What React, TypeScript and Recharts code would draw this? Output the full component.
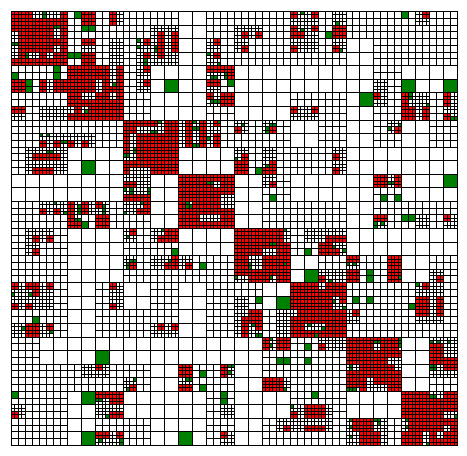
import { ReferenceLine, Scatter, ScatterChart, XAxis, YAxis } from 'recharts';

// block layout, one char per 1/32 of the matrix: B big, G big green, M split in 4, S split in 16
const layoutRows = [
  'SSSSMSMSMMMMBBMMMMMMSSMSMMMMMSMM',
  'SSSSMMMMMMSSBBMMSSMMSSMSMMMMMMMM',
  'SSSSMSMSMSSSBBSMSMMMSSMSBBMMMMMM',
  'SSSSMSMSMSSSBBSMMMMMMMMMBBMMMMMM',
  'MMMMSSSSMSBBBBSSBBBBBBBBBBMMBBBB',
  'SMSSSSSSMSBGBBSMBBBBBBBBBBSMGBBG',
  'MMMMSSSSMMBBBBSSBBBBMMMMBGSMSSMS',
  'SMSSSSSSMMBBBBMMBBBBSSMMBBMMSSMS',
  'MMMMMMMMSSSSSSSMSMSMBBMMBBMSBBMM',
  'MMSSSSMMSSSSSSSMMMMMBBMMBBMMBBMM',
  'MSSSBBBBSSSSBBBBSMSMMMMSBBBBBBBB',
  'MSSSBGBBSSSSBBBBSMSMMMMSBBBBBBBB',
  'BBBBBBBBSSBBSSSSBBSMBBBBBBSSBBBG',
  'BBBBBBBBSSBBSSSSBBMMBBBBBBMMBBBB',
  'MMSSSSSMSSBBSSSSBBMMMMMMBBMMMMMM',
  'MMMMSMSMMMBBSSSSBBMMMMMMBBSMMSMS',
  'MSSMBBBBSMSSBBBBSSSSMSSSBBBBBBBB',
  'MSMMBBBBMMMMBBBBSSSSMMSSBBBBBBBB',
  'MMMMBBBBSMSSSMMMSSSSBBMMSMMSBBMM',
  'MMMMBBBBMMMMMMMMSSSSBGSSSMMSBBSM',
  'SSSMBBMSBBMMBBMMMMBBSSSSMMMMMSSM',
  'SSSMBBMSBBMMBBMMSMBGSSSSMMMMMSSM',
  'MMMMBBMMMMMMBBMMSSMSSSSSSMMMMSSM',
  'SSSMBBMMMMSSBBMMSSMSSSSSMMMMMMMM',
  'MMBBBBBBBBBBBBBBBBSSMMSSSSSSBBSS',
  'MMBBBBGBBBBBBBBBBBMMMMMMSSSSBBSS',
  'MMMMMSSMMMBBSMMSBBMMMMMMSSSSBBSS',
  'MMMMMMMMSMBBSMMMBBSSMMMMSSSSBBMM',
  'MMMMBGSSBBBBBBMMBBBBMMMMBBBBSSSS',
  'SMMMBBSSBBBBBBMSBBBBSSSMBBBBSSSS',
  'MMMMBBMMMMBBBBMMBBMSSSSMSSSMSSSS',
  'MMMMBGSSMMBBGBMSBBMMMMMMSSSMSSSS',
];

// red areas as [left, top, right, bottom] on the 128 x 128 grid
const redBlocks = [
  [0, 0, 6, 2], [14, 0, 16, 2], [0, 2, 16, 4], [0, 4, 12, 6], [14, 4, 16, 6], [2, 6, 12, 8], [14, 6, 16, 8],
  [2, 8, 16, 10], [2, 10, 12, 12], [14, 10, 16, 12], [2, 12, 4, 14], [8, 12, 10, 14], [12, 12, 16, 14], [0, 14, 16, 16],
  [20, 0, 24, 4], [28, 0, 30, 4], [20, 8, 24, 10], [20, 12, 24, 16],
  [0, 20, 4, 24], [8, 20, 10, 24], [12, 20, 16, 24], [0, 28, 4, 30],
  [16, 16, 28, 20], [30, 16, 32, 20], [16, 20, 24, 24], [26, 20, 28, 24], [30, 20, 32, 24], [28, 22, 30, 24],
  [16, 24, 20, 26], [24, 24, 28, 26], [30, 24, 32, 26], [16, 26, 32, 28], [18, 28, 20, 30], [22, 28, 32, 30], [16, 30, 32, 32],
  [42, 6, 44, 14], [46, 6, 48, 12], [38, 8, 40, 10], [38, 12, 40, 14], [38, 16, 40, 18], [38, 20, 40, 22],
  [58, 8, 60, 10], [58, 12, 60, 14], [56, 16, 64, 18], [62, 18, 64, 20], [56, 20, 60, 22], [56, 24, 58, 26], [60, 24, 64, 28],
  [66, 6, 68, 8], [70, 6, 72, 8], [66, 10, 68, 12], [80, 0, 82, 2], [86, 0, 88, 2], [80, 4, 82, 6], [80, 6, 84, 8], [86, 4, 88, 6],
  [80, 10, 82, 12], [80, 28, 82, 30], [86, 28, 88, 30], [92, 4, 96, 8], [92, 10, 94, 12],
  [118, 0, 120, 2], [104, 24, 106, 26], [112, 24, 114, 28], [112, 28, 116, 32], [118, 28, 120, 32], [124, 24, 126, 28], [124, 30, 126, 32],
  [8, 38, 10, 40], [12, 38, 14, 40], [16, 38, 18, 40], [20, 38, 22, 40], [6, 42, 14, 44], [6, 46, 12, 48],
  [8, 58, 10, 60], [12, 58, 14, 60], [16, 56, 18, 60], [20, 56, 22, 60], [24, 56, 26, 58],
  [16, 60, 18, 64], [18, 62, 20, 64], [24, 60, 28, 64],
  [32, 32, 42, 34], [44, 32, 48, 34], [50, 32, 52, 34], [54, 32, 56, 34], [58, 32, 60, 34],
  [32, 34, 36, 36], [44, 34, 48, 36], [50, 34, 52, 36], [54, 34, 56, 36],
  [32, 36, 34, 40], [36, 36, 48, 40], [50, 36, 52, 40], [54, 36, 56, 40], [58, 36, 60, 40],
  [32, 40, 34, 42], [36, 40, 48, 44], [32, 44, 48, 46], [32, 46, 34, 48], [40, 46, 48, 48],
  [32, 50, 36, 52], [32, 54, 40, 56], [38, 56, 40, 58], [36, 58, 40, 60],
  [48, 48, 64, 50], [48, 50, 56, 52], [60, 50, 64, 52], [56, 51, 58, 52], [48, 52, 64, 54], [48, 54, 60, 56],
  [48, 56, 50, 58], [52, 56, 60, 58], [48, 58, 64, 60], [48, 60, 54, 62], [60, 60, 64, 62], [48, 62, 64, 64],
  [64, 34, 66, 36], [74, 34, 76, 36], [66, 42, 68, 44], [64, 44, 68, 48], [74, 44, 76, 46], [72, 46, 76, 48],
  [92, 42, 94, 44], [92, 46, 94, 48], [74, 50, 76, 52],
  [110, 34, 112, 36], [104, 48, 108, 52], [110, 48, 112, 52], [104, 60, 108, 62], [124, 60, 126, 62],
  [6, 66, 8, 68], [10, 66, 12, 68], [6, 70, 8, 72], [34, 64, 36, 66], [42, 66, 48, 68], [44, 64, 48, 66],
  [34, 74, 36, 76], [46, 72, 48, 74], [44, 74, 48, 76], [50, 74, 52, 76],
  [0, 80, 2, 82], [4, 80, 8, 82], [6, 82, 8, 84], [10, 80, 12, 82], [28, 80, 30, 82],
  [0, 86, 2, 88], [4, 86, 6, 88], [28, 86, 30, 88], [4, 92, 8, 96], [10, 92, 12, 94], [42, 92, 44, 94], [46, 92, 48, 94],
  [64, 64, 78, 68], [64, 68, 80, 70], [64, 70, 72, 72], [76, 70, 80, 72], [64, 72, 68, 74], [72, 72, 80, 74],
  [64, 74, 68, 76], [72, 74, 80, 76], [64, 76, 80, 78], [68, 78, 74, 80], [76, 78, 80, 80],
  [90, 66, 96, 68], [88, 68, 92, 72], [92, 70, 94, 72], [88, 78, 90, 80],
  [68, 88, 72, 92], [66, 90, 68, 92], [66, 92, 68, 96], [70, 92, 72, 94],
  [80, 80, 88, 82], [90, 80, 96, 82], [80, 82, 96, 84], [80, 84, 92, 86], [94, 84, 96, 86], [80, 86, 92, 88],
  [82, 88, 96, 90], [80, 90, 96, 92], [80, 92, 84, 94], [90, 92, 96, 94], [80, 94, 96, 96],
  [96, 72, 100, 74], [96, 76, 100, 80], [108, 72, 112, 80], [122, 78, 124, 80], [118, 80, 120, 82],
  [116, 84, 120, 90], [122, 84, 124, 90], [98, 88, 100, 90],
  [24, 104, 26, 106], [48, 104, 52, 108], [60, 104, 62, 108], [34, 110, 36, 112], [48, 110, 52, 112],
  [24, 112, 32, 114], [28, 114, 32, 116], [0, 118, 2, 120], [28, 118, 32, 120],
  [24, 124, 28, 126], [30, 124, 32, 126], [60, 124, 62, 126],
  [72, 96, 74, 100], [76, 96, 80, 100], [88, 98, 90, 100], [72, 108, 78, 112],
  [80, 118, 82, 120], [84, 116, 90, 120], [78, 122, 80, 124], [84, 122, 90, 124],
  [96, 96, 104, 100], [104, 96, 106, 97], [106, 96, 111, 100], [96, 100, 112, 102], [96, 102, 108, 104],
  [100, 104, 110, 106], [96, 106, 112, 108], [96, 108, 102, 111], [100, 111, 102, 112], [104, 108, 112, 110], [108, 110, 112, 112],
  [98, 120, 104, 124], [100, 124, 106, 128],
  [112, 112, 120, 114], [124, 112, 128, 114], [112, 114, 128, 118], [112, 118, 124, 120], [114, 120, 128, 122],
  [114, 122, 124, 124], [126, 122, 128, 124], [112, 124, 118, 128], [120, 124, 122, 126], [124, 124, 128, 126], [120, 126, 128, 128],
  [120, 98, 124, 104], [124, 102, 128, 104], [124, 104, 128, 106],
];

// green cells as [left, top, size]
const greenCells = [
  [18, 0, 2], [9, 0, 1], [9, 1, 1], [12, 4, 1], [13, 4, 1], [0, 9, 1], [1, 9, 1], [4, 12, 1], [4, 13, 1],
  [20, 4, 2], [22, 4, 2], [16, 12, 2], [18, 12, 2], [12, 16, 2], [12, 18, 2], [0, 18, 2], [4, 20, 2], [4, 22, 2], [29, 21, 1], [21, 29, 1],
  [36, 8, 1], [36, 10, 1], [41, 10, 1], [41, 11, 1], [38, 14, 1], [38, 15, 1], [56, 12, 1], [59, 15, 1],
  [57, 19, 1], [58, 19, 1], [61, 18, 1], [61, 19, 1], [62, 20, 2], [57, 26, 1], [58, 26, 1], [59, 26, 1],
  [83, 0, 1], [83, 5, 1], [90, 6, 2], [93, 3, 1], [94, 11, 1],
  [112, 0, 2], [114, 24, 1], [114, 25, 1], [119, 27, 1], [126, 31, 1], [127, 31, 1],
  [8, 36, 1], [10, 36, 1], [14, 38, 1], [15, 38, 1], [10, 41, 1], [11, 41, 1],
  [12, 56, 1], [15, 59, 1], [19, 57, 1], [19, 58, 1], [19, 59, 1], [26, 57, 1], [26, 58, 1], [26, 59, 1],
  [18, 61, 1], [19, 61, 1], [20, 62, 2],
  [42, 32, 1], [52, 32, 1], [59, 32, 1], [40, 35, 1], [41, 35, 1], [52, 34, 1], [53, 34, 1], [56, 37, 1], [52, 39, 1], [53, 39, 1],
  [35, 40, 1], [35, 41, 1], [32, 42, 1], [33, 42, 1], [32, 52, 1], [34, 52, 1], [34, 53, 1], [39, 52, 1], [39, 53, 1],
  [37, 56, 1], [32, 59, 1], [56, 50, 1], [57, 50, 1], [50, 56, 1], [50, 57, 1], [51, 57, 1],
  [43, 64, 1], [66, 33, 1], [73, 34, 1], [73, 35, 1], [74, 33, 1], [75, 33, 1], [64, 43, 1], [70, 46, 2], [73, 45, 1], [74, 54, 2],
  [108, 34, 1], [111, 33, 1], [108, 50, 1], [109, 50, 1], [106, 54, 2], [110, 54, 2], [104, 62, 1], [104, 63, 1], [106, 62, 1], [112, 60, 2], [114, 60, 2],
  [33, 66, 1], [46, 70, 2], [34, 73, 1], [35, 73, 1], [33, 74, 1], [33, 75, 1], [45, 73, 1], [54, 74, 2],
  [0, 83, 1], [5, 83, 1], [6, 90, 2], [3, 93, 1], [11, 94, 1],
  [78, 64, 1], [74, 68, 1], [75, 68, 1], [68, 74, 1], [68, 75, 1], [78, 74, 1], [64, 78, 1], [74, 78, 1],
  [84, 70, 2], [92, 69, 1], [95, 70, 1], [91, 79, 1], [70, 84, 2], [69, 92, 1], [70, 95, 1], [71, 95, 1],
  [92, 85, 1], [95, 87, 1], [85, 92, 1], [89, 93, 1], [87, 95, 1],
  [96, 74, 1], [98, 74, 1], [102, 76, 2], [102, 78, 2], [111, 78, 1], [116, 80, 1], [98, 84, 2], [102, 84, 2], [114, 86, 2],
  [54, 106, 2], [62, 104, 1], [63, 104, 1], [62, 106, 1], [35, 108, 1], [33, 111, 1], [50, 108, 1], [51, 108, 1], [54, 110, 2],
  [0, 112, 2], [24, 114, 1], [25, 114, 1], [60, 112, 2], [60, 114, 2], [27, 119, 1], [25, 126, 1], [31, 126, 1], [31, 127, 1],
  [74, 96, 1], [74, 98, 1], [84, 98, 2], [76, 102, 2], [78, 102, 2], [84, 102, 2], [78, 111, 1], [86, 112, 2], [80, 116, 1],
  [104, 97, 1], [105, 97, 1], [111, 96, 1], [111, 97, 1], [111, 98, 1], [97, 104, 1], [97, 105, 1], [96, 111, 1], [97, 111, 1], [98, 111, 1],
  [97, 120, 1], [104, 120, 1], [105, 120, 1], [105, 121, 1], [97, 122, 1], [97, 125, 1],
  [120, 113, 1], [121, 113, 1], [127, 119, 1], [113, 120, 1], [113, 122, 1], [119, 127, 1],
  [120, 97, 1], [122, 97, 1], [125, 97, 1], [120, 104, 1], [121, 104, 1], [120, 105, 1], [121, 105, 1],
];

// the two places where the row boundary prints heavier: [left, right, row]
const heavyLines = [
  [16, 32, 48],
  [96, 128, 48],
];

const GRID = 128;
const PLOT_W = 446;
const PLOT_H = 434;

type Cell = { x: number; y: number; size: number; color: string };

function cellColor(u: number, v: number, s: number) {
  const green = greenCells.some(([l, t, n]) => u >= l && v >= t && u + s <= l + n && v + s <= t + n);
  if (green) return '#008000';
  const red = redBlocks.some(([l, t, r, b]) => u >= l && v >= t && u + s <= r && v + s <= b);
  return red ? '#ff0000' : '#ffffff';
}

function buildCells() {
  const cells: Cell[] = [];
  layoutRows.forEach((row, r) => {
    row.split('').forEach((kind, c) => {
      const size = kind === 'S' ? 1 : kind === 'M' ? 2 : 4;
      for (let dv = 0; dv < 4; dv += size) {
        for (let du = 0; du < 4; du += size) {
          const u = c * 4 + du;
          const v = r * 4 + dv;
          const color = kind === 'G' ? '#008000' : cellColor(u, v, size);
          cells.push({ x: u + size / 2, y: v + size / 2, size, color });
        }
      }
    });
  });
  return cells;
}

const allCells = buildCells();

// snap every edge to a whole pixel so neighbouring cells share one 1px line
function CellMark(props: any) {
  const { cx, cy, payload } = props;
  const w = (payload.size * PLOT_W) / GRID;
  const h = (payload.size * PLOT_H) / GRID;
  const left = Math.round(cx - w / 2) + 0.5;
  const right = Math.round(cx + w / 2) + 0.5;
  const top = Math.round(cy - h / 2) + 0.5;
  const bottom = Math.round(cy + h / 2) + 0.5;
  return (
    <rect
      x={left}
      y={top}
      width={right - left}
      height={bottom - top}
      fill={payload.color}
      stroke="#000"
      strokeWidth={1}
      shapeRendering="crispEdges"
    />
  );
}

export default function App() {
  return (
    <ScatterChart width={451} height={440} margin={{ top: 3, right: 2, bottom: 3, left: 3 }}>
      <XAxis type="number" dataKey="x" domain={[0, GRID]} hide />
      <YAxis type="number" dataKey="y" domain={[0, GRID]} reversed hide />
      <Scatter data={allCells} shape={CellMark} isAnimationActive={false} />
      {heavyLines.map(([l, r, row]) => (
        <ReferenceLine
          key={l}
          segment={[{ x: l, y: row }, { x: r, y: row }]}
          stroke="#000"
          strokeWidth={2}
          shapeRendering="crispEdges"
        />
      ))}
    </ScatterChart>
  );
}
